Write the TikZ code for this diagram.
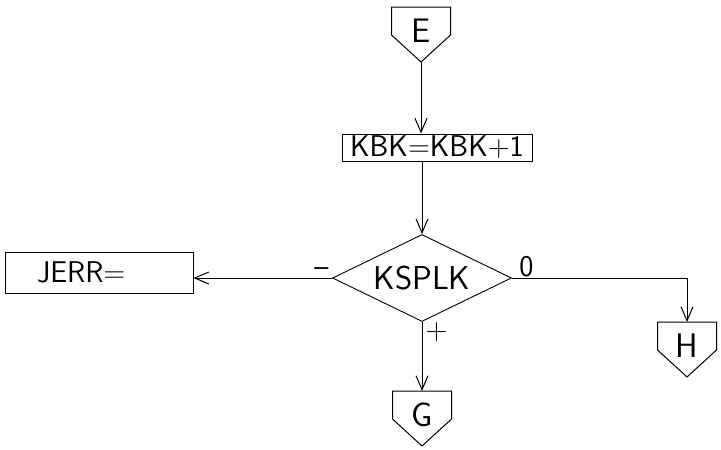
\documentclass[tikz,border=0pt]{standalone}
\usepackage{fontspec}
\usetikzlibrary{shapes.geometric,arrows.meta}
\tikzset{
  fcbox/.style={rectangle, draw, line width=1pt, inner sep=2pt,
                font=\sffamily\fontsize{30}{34}\selectfont},
  fcdecision/.style={diamond, draw, line width=0.9pt, aspect=2,
                     minimum width=179pt, minimum height=87pt,
                     inner sep=0pt, font=\sffamily\fontsize{33}{37}\selectfont},
  fcconnector/.style={inner sep=0pt, font=\sffamily\fontsize{34}{38}\selectfont},
  fcflow/.style={draw, line width=1pt,
                 -{Straight Barb[length=14pt,width=12pt]}},
  fcsign/.style={inner sep=3pt, font=\sffamily\fontsize{30}{34}\selectfont}
}
\begin{document}
\begin{tikzpicture}[x=1pt, y=-1pt]
  \fill[white] (0,0) rectangle (721,450);
  \useasboundingbox (0,0) rectangle (721,450);
  % blocks
  \node[fcconnector] (E) at (421,31) {E};
  \node[fcbox, minimum width=190pt, minimum height=27pt] (kbk) at (437,147.5)
    {KBK=KBK+1};
  \node[fcdecision] (ksplk) at (422,278) {KSPLK};
  \node[fcbox, text width=124pt, inner xsep=32pt, minimum height=41pt,
        align=left] (jerr) at (99,272.5) {JERR=};
  \node[fcconnector] (H) at (687,346) {H};
  \node[fcconnector] (G) at (422,415) {G};
  % off-page connector outlines
  \foreach \c in {E,H,G} {
    \coordinate (\c-top) at ([shift={(0,-24)}]\c.center);
    \coordinate (\c-tip) at ([shift={(0,31)}]\c.center);
    \draw[line width=1pt] ([shift={(-29.5,-24)}]\c.center)
      -- ([shift={(29.5,-24)}]\c.center) -- ([shift={(29.5,4)}]\c.center)
      -- (\c-tip) -- ([shift={(-29.5,4)}]\c.center) -- cycle;
  }
  % flow lines
  \draw[fcflow] (E-tip) -- (E-tip |- kbk.north);
  \draw[fcflow] (kbk.south -| ksplk.north) -- (ksplk.north);
  \draw[fcflow] (ksplk.west) -- (ksplk.west -| jerr.east)
    node[pos=0, fcsign, anchor=south east, yshift=-2pt] {\textendash};
  \draw[fcflow] (ksplk.east) -| (H-top)
    node[pos=0, fcsign, anchor=south west, xshift=4pt, yshift=-2pt] {0};
  \draw[fcflow] (ksplk.south) -- (G-top)
    node[pos=0, fcsign, anchor=north west, yshift=3pt] {+};
\end{tikzpicture}
\end{document}
